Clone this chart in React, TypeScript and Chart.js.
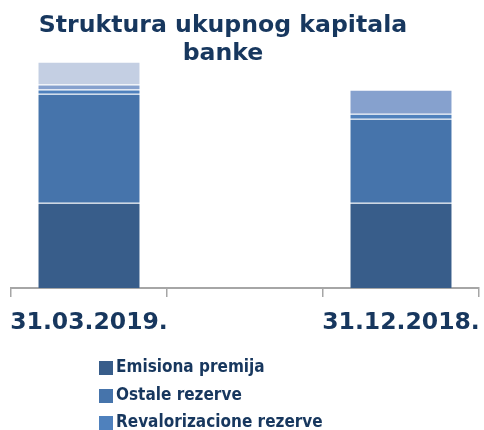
import React, { useEffect, useRef } from "react";
import { Chart, registerables } from "chart.js";

Chart.register(...registerables);

const categories = ["31.03.2019.", "", "31.12.2018."];
const titleLines = ["Struktura ukupnog kapitala", "banke"];
const seriesNames = [
  "Emisiona premija",
  "Ostale rezerve",
  "Revalorizacione rezerve",
  "Ostalo",
  "Dobit",
];
const emisionaPremija = [3.74, null, 3.74];
const ostaleRezerve = [4.78, null, 3.68];
const revalorizacioneRezerve = [0.19, null, 0.22];
const ostalo = [0.22, null, 1.05];
const dobit = [0.99, null, 0];
const seriesColors = ["#385D8A", "#4674AB", "#4F81BD", "#86A1CE", "#C4CFE3"];
const legendCount = 3;

const TEXT_COLOR = "#17375E";
const AXIS_COLOR = "#A6A6A6";

const titlePlugin = {
  id: "customTitle",
  afterDraw(chart: any) {
    const ctx = chart.ctx;
    ctx.save();
    ctx.fillStyle = TEXT_COLOR;
    ctx.font = 'bold 23.6px "DejaVu Sans", sans-serif';
    ctx.textAlign = "center";
    ctx.textBaseline = "alphabetic";
    ctx.fillText(titleLines[0], 223, 32);
    ctx.fillText(titleLines[1], 223, 60);
    ctx.restore();
  },
};

const legendPlugin = {
  id: "customLegend",
  afterDraw(chart: any) {
    const ctx = chart.ctx;
    ctx.save();
    ctx.font = 'bold 17px "DejaVu Sans Condensed", "DejaVu Sans", sans-serif';
    ctx.textBaseline = "middle";
    ctx.textAlign = "left";
    const rows = [368, 396, 423];
    for (let i = 0; i < legendCount; i++) {
      const ds = chart.data.datasets[i];
      const cy = rows[i];
      ctx.fillStyle = ds.backgroundColor;
      ctx.fillRect(99, cy - 7, 14, 14);
      ctx.fillStyle = TEXT_COLOR;
      ctx.fillText(ds.label, 116, cy);
    }
    ctx.restore();
  },
};

export default function App() {
  const ref = useRef<HTMLCanvasElement | null>(null);
  useEffect(() => {
    if (!ref.current) return;
    const values = [emisionaPremija, ostaleRezerve, revalorizacioneRezerve, ostalo, dobit];
    const chart = new Chart(ref.current, {
      type: "bar",
      data: {
        labels: categories,
        datasets: values.map((v, i) => ({
          label: seriesNames[i],
          data: v,
          backgroundColor: seriesColors[i],
          borderColor: "rgba(255,255,255,0.18)",
          borderWidth: 1,
          categoryPercentage: 1,
          barPercentage: 0.66,
        })),
      },
      options: {
        animation: false,
        responsive: true,
        maintainAspectRatio: false,
        layout: { padding: { top: 60, left: 11, right: 5, bottom: 82 } },
        plugins: {
          legend: { display: false },
          title: { display: false },
          tooltip: { enabled: false },
        },
        scales: {
          x: {
            stacked: true,
            afterFit: (scale: any) => {
              scale.height = 60;
              scale.paddingLeft = 0;
              scale.paddingRight = 0;
            },
            grid: {
              display: true,
              drawOnChartArea: false,
              drawTicks: true,
              tickLength: 9,
              color: AXIS_COLOR,
              lineWidth: 1.5,
              offset: true,
            },
            border: { display: true, color: AXIS_COLOR, width: 2 },
            ticks: {
              color: TEXT_COLOR,
              font: { family: '"DejaVu Sans", sans-serif', size: 23.5, weight: "bold" },
              padding: 12,
              maxRotation: 0,
              autoSkip: false,
            },
          },
          y: {
            stacked: true,
            display: false,
            min: 0,
            max: 10,
          },
        },
      },
      plugins: [titlePlugin, legendPlugin],
    });
    return () => chart.destroy();
  }, []);
  return (
    <div style={{ position: "fixed", left: 0, top: 0, width: 484, height: 430, background: "#fff" }}>
      <canvas ref={ref} />
    </div>
  );
}
